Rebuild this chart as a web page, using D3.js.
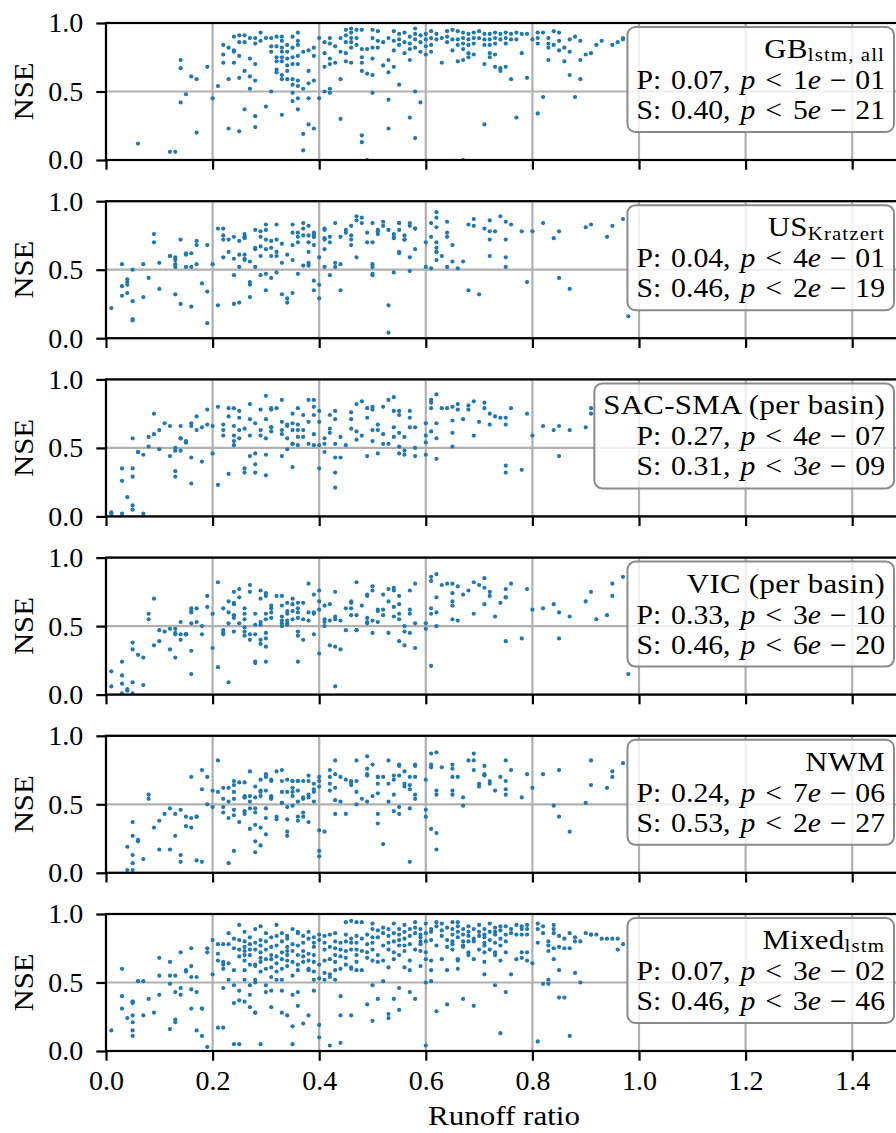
<!DOCTYPE html>
<html>
<head>
<meta charset="utf-8">
<script src="https://cdn.jsdelivr.net/npm/d3@7"></script>
<style>
  body { margin: 0; background: #fff; }
  svg { display: block; }
  text { font-family: "Liberation Serif", "Times New Roman", serif; fill: #000; }
</style>
</head>
<body>
<svg id="chart" width="896" height="1133"></svg>
<script>
// ---- axes ----
const xTickValues = [0, 0.2, 0.4, 0.6, 0.8, 1.0, 1.2, 1.4];
const yTickValues = [0, 0.5, 1.0];
const xLabel = "Runoff ratio";
const yLabel = "NSE";

// ---- legend contents, one entry per panel ----
const modelNames = ["GB", "US", "SAC-SMA (per basin)", "VIC (per basin)", "NWM", "Mixed"];
const modelSubs = ["lstm, all", "Kratzert", "", "", "", "lstm"];
const pearsonR = ["0.07", "0.04", "0.27", "0.33", "0.24", "0.07"];
const pearsonP = ["1e-01", "4e-01", "4e-07", "3e-10", "7e-06", "3e-02"];
const spearmanR = ["0.40", "0.46", "0.31", "0.46", "0.53", "0.46"];
const spearmanP = ["5e-21", "2e-19", "3e-09", "6e-20", "2e-27", "3e-46"];

// ---- per-basin points: [runoff ratio, [NSE values of basins at that ratio]] ----
const gbLstmAll = [
  [0.06,[0.12]],[0.12,[0.06]],[0.13,[0.06]],[0.14,[0.73,0.67,0.42]],[0.15,[0.48]],
  [0.16,[0.61]],[0.17,[0.59,0.20]],[0.19,[0.68]],[0.20,[0.45]],[0.21,[0.54]],
  [0.22,[0.84,0.77,0.71]],[0.23,[0.82,0.59,0.23]],[0.24,[0.90,0.80,0.79,0.71]],
  [0.25,[0.91,0.86,0.76,0.60,0.21]],[0.26,[0.91,0.86,0.65,0.37]],[0.27,[0.89,0.74,0.61,0.52]],
  [0.28,[0.89,0.85,0.70,0.58,0.32,0.24]],[0.29,[0.93,0.87]],[0.30,[0.89,0.39]],
  [0.31,[0.89,0.83,0.79,0.50]],[0.32,[0.90,0.83,0.75,0.72,0.66,0.64]],
  [0.33,[0.90,0.87,0.82,0.79,0.75,0.72,0.62,0.59,0.33]],[0.34,[0.84,0.79,0.74,0.69,0.65,0.59]],
  [0.35,[0.90,0.82,0.75,0.70,0.59,0.55,0.49,0.43]],[0.36,[0.93,0.87,0.84,0.76,0.70,0.58,0.54,0.45,0.37]],
  [0.37,[0.79,0.52,0.19,0.07]],[0.38,[0.80,0.65,0.56,0.45,0.26]],[0.39,[0.82,0.76,0.58,0.23]],
  [0.40,[0.89,0.45]],[0.41,[0.86,0.78,0.68,0.50]],[0.42,[0.89,0.85,0.74,0.70,0.52,0.49]],
  [0.43,[0.83,0.71]],[0.44,[0.89,0.79,0.59,0.30]],[0.45,[0.95,0.91,0.86,0.78,0.72]],
  [0.46,[0.96,0.93,0.89,0.86,0.82,0.71]],[0.47,[0.95,0.89,0.84]],
  [0.48,[0.95,0.81,0.75,0.71,0.65,0.18,0.13]],[0.49,[0.81,0.63,0.00]],
  [0.50,[0.95,0.89,0.82,0.74,0.62,0.49]],[0.51,[0.94,0.87,0.82]],[0.52,[0.86,0.69]],
  [0.53,[0.89,0.73,0.64,0.44,0.23]],[0.54,[0.94,0.87,0.80,0.68]],[0.55,[0.92,0.88,0.84,0.55]],
  [0.56,[0.93,0.86,0.78]],[0.57,[0.90,0.85,0.81,0.73,0.31]],[0.58,[0.96,0.92,0.88,0.82,0.50,0.16]],
  [0.59,[0.91,0.86,0.79,0.42]],[0.60,[0.92,0.88,0.83,0.77]],[0.61,[0.94,0.89,0.84,0.79]],
  [0.62,[0.92,0.88]],[0.63,[0.89,0.71]],[0.64,[0.94,0.90,0.86]],[0.65,[0.95,0.88,0.80]],
  [0.66,[0.94,0.88,0.84,0.72]],[0.67,[0.93,0.89,0.85,0.81,0.73,0.00]],
  [0.68,[0.92,0.88,0.84,0.78,0.75]],[0.69,[0.93,0.89,0.85,0.77]],[0.70,[0.94,0.89]],
  [0.71,[0.92,0.88,0.84,0.70,0.26]],[0.72,[0.92,0.88,0.84,0.78,0.75]],
  [0.73,[0.93,0.89,0.85,0.77,0.68]],[0.74,[0.92,0.88,0.67,0.65]],[0.75,[0.93,0.89,0.85,0.68]],
  [0.76,[0.92,0.88,0.59]],[0.77,[0.93,0.88,0.31]],[0.78,[0.92,0.78]],[0.79,[0.92,0.60]],
  [0.80,[0.88]],[0.81,[0.93,0.89,0.85,0.34]],[0.82,[0.93,0.46]],[0.83,[0.89,0.85,0.82,0.73]],
  [0.84,[0.94,0.84]],[0.85,[0.93,0.87,0.80]],[0.86,[0.82,0.72]],[0.87,[0.88,0.79,0.62]],
  [0.88,[0.90,0.46]],[0.89,[0.87,0.73,0.59]],[0.90,[0.77]],[0.91,[0.78]],[0.92,[0.84]],
  [0.93,[0.87]],[0.95,[0.84]],[0.96,[0.86]],[0.97,[0.89,0.88]]
];

const usKratzert = [
  [0.01,[0.22]],[0.03,[0.38,0.54,0.31]],[0.04,[0.39,0.43,0.41,0.33]],[0.05,[0.27,0.13,0.14,0.50]],
  [0.07,[0.54,0.30]],[0.08,[0.44]],[0.09,[0.76,0.70]],[0.10,[0.36,0.55]],[0.12,[0.60,0.60]],
  [0.13,[0.54,0.52,0.57,0.59,0.32]],[0.14,[0.25,0.72]],[0.15,[0.61,0.62,0.52]],
  [0.16,[0.62,0.23,0.52]],[0.17,[0.71,0.68,0.54]],[0.18,[0.40]],[0.19,[0.34,0.68,0.11]],
  [0.20,[0.54]],[0.21,[0.80,0.24]],[0.22,[0.80,0.75,0.72,0.59]],[0.23,[0.72,0.63]],
  [0.24,[0.58,0.74,0.46,0.25]],[0.25,[0.71,0.61,0.52,0.26]],[0.26,[0.76,0.74,0.57,0.61,0.58,0.74,0.73]],
  [0.27,[0.41,0.39,0.30,0.56]],[0.28,[0.52,0.66,0.79,0.65]],[0.29,[0.67,0.60,0.78,0.46,0.74]],
  [0.30,[0.83,0.79,0.72,0.65,0.35,0.47]],[0.31,[0.66,0.60,0.44,0.71]],[0.32,[0.83,0.63,0.60,0.72,0.48]],
  [0.33,[0.32,0.69,0.55]],[0.34,[0.29,0.26,0.61]],[0.35,[0.83,0.68,0.57,0.77,0.33]],
  [0.36,[0.74,0.47,0.77,0.70]],[0.37,[0.84,0.53,0.80,0.75]],[0.38,[0.53,0.55,0.63,0.82,0.75,0.70]],
  [0.39,[0.76,0.74,0.42,0.68,0.35,0.77,0.74]],[0.40,[0.59,0.39,0.29]],
  [0.41,[0.72,0.73,0.80,0.79,0.65,0.52]],[0.42,[0.70,0.46,0.74]],[0.43,[0.84,0.55,0.52]],
  [0.44,[0.35,0.74,0.54]],[0.45,[0.79,0.77]],[0.46,[0.68,0.82,0.75,0.72]],[0.47,[0.59,0.86,0.89]],
  [0.48,[0.88,0.84]],[0.49,[0.77,0.70]],[0.50,[0.84,0.70,0.54,0.47,0.46,0.52]],
  [0.51,[0.76,0.78,0.79]],[0.52,[0.85,0.82]],[0.53,[0.79,0.24,0.04]],[0.54,[0.74,0.48,0.76,0.73]],
  [0.55,[0.84,0.63,0.62,0.84,0.79]],[0.56,[0.75,0.72,0.72]],[0.57,[0.84,0.59,0.49,0.82]],
  [0.58,[0.65,0.80,0.80]],[0.60,[0.70,0.52]],[0.61,[0.84,0.51,0.74]],
  [0.62,[0.88,0.63,0.70,0.66,0.63,0.92,0.81,0.57]],[0.63,[0.60]],[0.64,[0.77,0.85,0.74,0.52]],
  [0.65,[0.68,0.56]],[0.66,[0.51]],[0.67,[0.56]],[0.68,[0.35,0.83]],[0.69,[0.87,0.82]],
  [0.70,[0.32]],[0.71,[0.80]],[0.72,[0.86,0.60,0.78,0.72]],[0.73,[0.78]],[0.74,[0.89]],
  [0.75,[0.59,0.52,0.72,0.85]],[0.76,[0.83]],[0.78,[0.78]],[0.79,[0.41]],[0.80,[0.78]],
  [0.82,[0.84]],[0.84,[0.73]],[0.85,[0.44,0.78]],[0.87,[0.36]],[0.90,[0.81]],[0.91,[0.83]],
  [0.94,[0.74]],[0.95,[0.82]],[0.97,[0.87]],[0.98,[0.16]]
];

const sacSma = [
  [0.01,[0.02,0.03]],[0.03,[0.02,0.26,0.35]],[0.04,[0.14]],[0.05,[0.35,0.29,0.05,0.08,0.57]],
  [0.06,[0.47,0.47]],[0.07,[0.45,0.02]],[0.08,[0.51,0.58]],[0.09,[0.75,0.60]],[0.10,[0.49,0.63]],
  [0.11,[0.68]],[0.12,[0.66,0.44]],[0.13,[0.48,0.50,0.33,0.29]],[0.14,[0.66,0.48,0.57,0.57]],
  [0.15,[0.55,0.54,0.54]],[0.16,[0.68,0.43,0.24,0.66]],[0.17,[0.63,0.73]],[0.18,[0.65,0.40]],
  [0.19,[0.67,0.78]],[0.20,[0.66,0.46]],[0.21,[0.80,0.23]],[0.22,[0.67,0.63,0.59]],
  [0.23,[0.79,0.73,0.31]],[0.24,[0.79,0.66,0.59,0.55,0.52]],[0.25,[0.77,0.63,0.72,0.57]],
  [0.26,[0.32,0.35,0.64]],[0.27,[0.82,0.71,0.59,0.44]],[0.28,[0.38,0.68,0.32,0.46]],
  [0.29,[0.63,0.59,0.78]],[0.30,[0.88,0.30,0.57,0.71,0.45]],[0.31,[0.79,0.65,0.62,0.78,0.65]],
  [0.32,[0.79]],[0.33,[0.44,0.63,0.60,0.85,0.69]],[0.34,[0.57,0.66,0.49,0.67]],
  [0.35,[0.53,0.53,0.75,0.63,0.68,0.36]],[0.36,[0.58,0.52,0.79,0.63,0.67]],[0.37,[0.74,0.63,0.58]],
  [0.38,[0.69,0.85,0.53]],[0.39,[0.74,0.60,0.52,0.85,0.80]],[0.40,[0.77,0.52,0.69,0.35]],
  [0.41,[0.47,0.57,0.53]],[0.42,[0.61,0.74,0.64]],[0.43,[0.43,0.53,0.21,0.71,0.32,0.77]],
  [0.44,[0.58,0.43]],[0.45,[0.52]],[0.46,[0.76,0.71,0.64]],[0.47,[0.62,0.56,0.82]],
  [0.48,[0.59,0.84]],[0.49,[0.44,0.79,0.72]],[0.50,[0.78,0.63,0.55,0.80]],[0.51,[0.46,0.67,0.63]],
  [0.52,[0.53,0.60,0.80]],[0.53,[0.85,0.53]],[0.54,[0.65,0.58,0.87,0.77]],
  [0.55,[0.74,0.46,0.61,0.77,0.51]],[0.56,[0.48,0.58,0.45]],[0.57,[0.65,0.72,0.77]],
  [0.58,[0.44,0.65,0.50]],[0.60,[0.59,0.54,0.45,0.68]],[0.61,[0.85,0.62,0.83,0.79]],
  [0.62,[0.89,0.57,0.68,0.42]],[0.63,[0.79]],[0.64,[0.79]],[0.65,[0.61,0.70,0.80,0.51]],
  [0.66,[0.82,0.78]],[0.67,[0.71]],[0.68,[0.78,0.81]],[0.69,[0.84,0.59]],[0.70,[0.69]],
  [0.71,[0.79,0.83]],[0.72,[0.75,0.67]],[0.73,[0.73]],[0.74,[0.72]],[0.75,[0.37,0.32,0.72,0.67]],
  [0.76,[0.79]],[0.78,[0.34]],[0.79,[0.75]],[0.80,[0.59]],[0.82,[0.66]],[0.84,[0.63]],
  [0.85,[0.66,0.44]],[0.87,[0.63]],[0.90,[0.65]],[0.91,[0.75,0.79]]
];

const vic = [
  [0.01,[0.06,0.17]],[0.03,[0.01,0.24,0.14,0.08]],[0.04,[0.03,0.04,0.03]],[0.05,[0.01,0.09,0.38,0.33]],
  [0.06,[0.29]],[0.07,[0.27,0.07]],[0.08,[0.59,0.55]],[0.09,[0.70,0.36]],[0.10,[0.39,0.47]],
  [0.11,[0.46]],[0.12,[0.48,0.33]],[0.13,[0.48,0.45,0.27,0.44]],[0.14,[0.40,0.44,0.53]],
  [0.15,[0.44,0.44,0.44]],[0.16,[0.63,0.52,0.61,0.60,0.32,0.15]],[0.17,[0.53,0.63]],
  [0.18,[0.50,0.44]],[0.19,[0.64,0.72]],[0.20,[0.59,0.34]],[0.21,[0.82,0.20]],
  [0.22,[0.47,0.45,0.63,0.44]],[0.23,[0.68,0.60,0.52,0.09]],[0.24,[0.46,0.67,0.58,0.66,0.56,0.75]],
  [0.25,[0.71,0.52,0.77]],[0.26,[0.63,0.49,0.46,0.43,0.59,0.55]],[0.27,[0.80,0.75,0.40,0.44]],
  [0.28,[0.51,0.23,0.44,0.24,0.59]],[0.29,[0.70,0.37,0.51,0.53,0.40,0.76]],
  [0.30,[0.35,0.24,0.59,0.55,0.72,0.45,0.41,0.74]],[0.31,[0.60,0.63,0.56,0.65]],[0.32,[0.72]],
  [0.33,[0.54,0.57,0.52,0.72,0.65,0.50]],[0.34,[0.54,0.52,0.59,0.61,0.51,0.67]],
  [0.35,[0.70,0.61,0.55,0.66]],[0.36,[0.56,0.24,0.67,0.46,0.43,0.63,0.60]],[0.37,[0.67,0.55,0.40]],
  [0.38,[0.54,0.81,0.60]],[0.39,[0.59,0.44,0.73,0.60]],[0.40,[0.76,0.68,0.62,0.30]],
  [0.41,[0.53,0.55,0.50,0.65]],[0.42,[0.54,0.66,0.36]],[0.43,[0.06,0.35,0.57,0.55,0.75]],
  [0.44,[0.54,0.33]],[0.45,[0.47,0.63]],[0.46,[0.63,0.67,0.68,0.58]],[0.47,[0.47,0.58,0.47,0.82]],
  [0.48,[0.65]],[0.49,[0.56,0.53,0.72,0.52,0.73]],[0.50,[0.76,0.54,0.79,0.45]],[0.51,[0.53,0.62,0.61]],
  [0.52,[0.62,0.58,0.73]],[0.53,[0.77,0.68,0.45]],[0.54,[0.64,0.76,0.57,0.78]],
  [0.55,[0.55,0.39,0.66,0.72,0.59]],[0.56,[0.50,0.36,0.46]],[0.57,[0.62,0.76,0.45,0.59]],
  [0.58,[0.34,0.52,0.81]],[0.60,[0.48,0.52]],[0.61,[0.21,0.63,0.83,0.86,0.59]],
  [0.62,[0.88,0.71,0.60,0.50]],[0.63,[0.80]],[0.64,[0.81]],[0.65,[0.74,0.68,0.65,0.81,0.55]],
  [0.66,[0.54,0.79]],[0.67,[0.73]],[0.68,[0.76]],[0.69,[0.82,0.59]],[0.70,[0.80]],
  [0.71,[0.78,0.85,0.66]],[0.72,[0.75,0.72]],[0.73,[0.57]],[0.74,[0.67]],[0.75,[0.39,0.71,0.77,0.71]],
  [0.76,[0.81]],[0.78,[0.41]],[0.79,[0.77]],[0.80,[0.62]],[0.82,[0.63]],[0.84,[0.66]],
  [0.85,[0.60,0.41]],[0.87,[0.57]],[0.90,[0.68]],[0.91,[0.75]],[0.92,[0.55]],[0.94,[0.58]],
  [0.95,[0.72,0.81]],[0.97,[0.86]],[0.98,[0.15]]
];

const nwm = [
  [0.04,[0.02,0.19]],[0.05,[0.02,0.37,0.27,0.07,0.13]],[0.06,[0.23,0.24]],[0.07,[0.10]],
  [0.08,[0.54,0.57]],[0.09,[0.33]],[0.10,[0.17,0.38]],[0.11,[0.43]],[0.12,[0.47,0.17]],
  [0.13,[0.43,0.27]],[0.14,[0.08,0.46,0.13]],[0.15,[0.34,0.41]],[0.16,[0.33,0.40,0.70]],
  [0.17,[0.41,0.09,0.41]],[0.18,[0.61,0.75,0.08]],[0.19,[0.50,0.70]],[0.20,[0.48,0.60]],
  [0.21,[0.82,0.59]],[0.22,[0.54,0.48,0.44,0.62]],[0.23,[0.62,0.52,0.40,0.07]],
  [0.24,[0.54,0.67,0.64,0.59,0.46,0.16,0.42]],[0.25,[0.66,0.37]],[0.26,[0.55,0.66,0.56,0.43,0.45,0.55]],
  [0.27,[0.47,0.52,0.56,0.32,0.74]],[0.28,[0.47,0.23,0.44,0.35,0.55,0.15,0.63]],
  [0.29,[0.60,0.59,0.56,0.33,0.20,0.68]],[0.30,[0.40,0.70,0.47,0.28,0.72,0.60]],
  [0.31,[0.56,0.55,0.68,0.67,0.54]],[0.32,[0.74,0.41,0.39]],[0.33,[0.59,0.75,0.67,0.51,0.51]],
  [0.34,[0.39,0.30,0.27,0.48,0.59,0.68]],[0.35,[0.62,0.56,0.67,0.49,0.59,0.67]],
  [0.36,[0.38,0.67,0.52,0.60,0.67,0.41]],[0.37,[0.55,0.67,0.44,0.54,0.41]],
  [0.38,[0.67,0.71,0.55,0.37,0.57]],[0.39,[0.59,0.61,0.52,0.65]],[0.40,[0.67,0.63,0.70,0.31,0.16,0.12]],
  [0.41,[0.30]],[0.42,[0.75,0.65,0.60,0.70]],[0.43,[0.43,0.62,0.82,0.72,0.53]],[0.44,[0.70,0.52]],
  [0.45,[0.68,0.43]],[0.46,[0.67,0.66,0.64]],[0.47,[0.67,0.59,0.50,0.82]],[0.48,[0.54]],
  [0.49,[0.76,0.72,0.71,0.52,0.85]],[0.50,[0.79,0.56]],[0.51,[0.43,0.65,0.70,0.36,0.58,0.70]],
  [0.52,[0.70,0.21]],[0.53,[0.52,0.82,0.65]],[0.54,[0.71,0.45,0.57,0.68]],[0.55,[0.79,0.48,0.71,0.43,0.78]],
  [0.56,[0.65,0.63,0.74]],[0.57,[0.47,0.64,0.61,0.70,0.08]],[0.58,[0.57,0.54,0.79,0.70,0.78]],
  [0.60,[0.68,0.46,0.41]],[0.61,[0.32,0.79,0.87,0.77]],[0.62,[0.88,0.60,0.57,0.29,0.17]],
  [0.63,[0.77]],[0.65,[0.70,0.60,0.57,0.79,0.76]],[0.66,[0.70]],[0.67,[0.49,0.55]],[0.68,[0.82]],
  [0.69,[0.75,0.87,0.82]],[0.70,[0.63,0.65]],[0.71,[0.72,0.78,0.71]],[0.72,[0.67,0.65]],[0.73,[0.60]],
  [0.74,[0.70]],[0.75,[0.57,0.61,0.82,0.67]],[0.76,[0.75]],[0.78,[0.55]],[0.79,[0.72]],[0.80,[0.62]],
  [0.82,[0.72]],[0.84,[0.49]],[0.85,[0.41,0.75]],[0.87,[0.30]],[0.90,[0.51]],[0.91,[0.82,0.64]],
  [0.94,[0.62]],[0.95,[0.70,0.74]],[0.97,[0.80]]
];

const mixedLstm = [
  [0.01,[0.15]],[0.03,[0.31,0.60,0.40]],[0.04,[0.24]],[0.05,[0.36,0.35,0.36,0.26,0.21,0.15,0.11]],
  [0.06,[0.51]],[0.07,[0.51,0.26]],[0.08,[0.38]],[0.09,[0.28]],[0.10,[0.55,0.41,0.68]],
  [0.12,[0.65,0.16,0.49,0.55]],[0.13,[0.55,0.43,0.23,0.21]],[0.14,[0.41,0.46,0.72]],[0.15,[0.59,0.58]],
  [0.16,[0.54,0.75,0.62,0.45,0.31]],[0.17,[0.54,0.15,0.43]],[0.18,[0.11,0.31,0.31]],
  [0.19,[0.03,0.72,0.75]],[0.20,[0.56,0.81]],[0.21,[0.78,0.71,0.66,0.17]],
  [0.22,[0.63,0.78,0.46,0.17,0.60,0.65]],[0.23,[0.86,0.78,0.52,0.64]],[0.24,[0.75,0.82,0.59,0.35,0.05,0.48]],
  [0.25,[0.74,0.92,0.44,0.05,0.37,0.81,0.69]],[0.26,[0.52,0.73,0.80,0.66,0.87,0.36,0.59,0.76,0.70]],
  [0.27,[0.74,0.70,0.48,0.32,0.83,0.41,0.78,0.63]],[0.28,[0.28,0.63,0.79,0.89,0.52,0.74,0.28,0.50,0.62]],
  [0.29,[0.81,0.91,0.68,0.77,0.05,0.65,0.72,0.58]],[0.30,[0.48,0.80,0.60,0.43,0.74,0.86,0.67]],
  [0.31,[0.70,0.44,0.32,0.67,0.83,0.54,0.76,0.61]],[0.32,[0.64,0.77,0.92,0.52,0.84,0.58,0.69]],
  [0.33,[0.72,0.44,0.80,0.28,0.67,0.52,0.86,0.60]],[0.34,[0.84,0.70,0.26,0.62,0.82,0.76,0.66,0.73]],
  [0.35,[0.41,0.65,0.55,0.89,0.05,0.73,0.18,0.78]],[0.36,[0.70,0.43,0.86,0.33,0.59,0.77,0.87,0.63]],
  [0.37,[0.65,0.79,0.20,0.73,0.84,0.69]],[0.38,[0.82,0.60,0.87,0.26,0.59,0.71,0.66]],
  [0.39,[0.79,0.52,0.65,0.70,0.44,0.76,0.83,0.58]],[0.40,[0.85,0.19,0.53,0.63,0.10,0.81]],
  [0.41,[0.57,0.84,0.52,0.74,0.66,0.79]],[0.42,[0.67,0.54,0.85,0.56,0.04,0.76]],
  [0.43,[0.70,0.59,0.80,0.86,0.52,0.65,0.75]],[0.44,[0.40,0.74,0.79,0.26,0.06,0.60,0.69]],
  [0.45,[0.85,0.73,0.68,0.80,0.94,0.63]],[0.46,[0.74,0.60,0.82,0.79,0.95,0.26,0.61]],
  [0.47,[0.94,0.65,0.74,0.84,0.59,0.79,0.70]],[0.48,[0.94,0.59,0.82,0.73]],[0.49,[0.78,0.72,0.68,0.34,0.85]],
  [0.50,[0.74,0.66,0.89,0.93,0.48,0.22,0.79,0.83]],[0.51,[0.70,0.38,0.83,0.65,0.88]],
  [0.52,[0.77,0.66,0.90,0.51,0.86]],[0.53,[0.61,0.84,0.79,0.27,0.24,0.74,0.89]],
  [0.54,[0.67,0.80,0.38,0.93,0.72,0.86]],[0.55,[0.85,0.77,0.46,0.30,0.89,0.70,0.81]],
  [0.56,[0.92,0.73,0.61,0.87,0.82,0.77]],[0.57,[0.66,0.89,0.59,0.43,0.78,0.84]],
  [0.58,[0.38,0.86,0.94,0.90,0.74]],[0.59,[0.83,0.80,0.78,0.73,0.62,0.85,0.89]],
  [0.60,[0.50,0.72,0.04,0.93,0.67,0.80,0.86]],[0.61,[0.87,0.81,0.66,0.89,0.51,0.59]],
  [0.62,[0.94,0.77,0.91,0.29]],[0.63,[0.67,0.88,0.84,0.93]],[0.64,[0.59,0.76,0.90,0.81,0.34]],
  [0.65,[0.94,0.78,0.85,0.74,0.89,0.80]],[0.66,[0.60,0.67,0.87,0.66,0.91,0.94,0.83]],
  [0.67,[0.77,0.85,0.38,0.80,0.76,0.89]],[0.68,[0.72,0.84,0.91,0.70,0.80,0.87]],
  [0.69,[0.67,0.82,0.89,0.80,0.33]],[0.70,[0.74,0.84,0.92,0.87]],
  [0.71,[0.72,0.79,0.65,0.85,0.56,0.89,0.83,0.77]],[0.72,[0.87,0.93,0.81,0.74]],
  [0.73,[0.85,0.79,0.90,0.70,0.48,0.87,0.72]],[0.74,[0.91,0.82,0.88,0.66,0.13,0.77]],
  [0.75,[0.43,0.85,0.91,0.72,0.80]],[0.76,[0.89,0.86,0.56]],[0.77,[0.92,0.85,0.67]],
  [0.78,[0.72,0.89,0.91,0.68,0.85]],[0.79,[0.92,0.85,0.72,0.89,0.66]],[0.80,[0.64]],
  [0.81,[0.93,0.79,0.07,0.89]],[0.82,[0.91,0.49,0.86]],[0.83,[0.52,0.49,0.80,0.77,0.73]],
  [0.84,[0.92,0.86,0.67,0.75,0.89]],[0.85,[0.39,0.59,0.84,0.76]],[0.86,[0.82,0.39,0.75]],
  [0.87,[0.11,0.86,0.75]],[0.88,[0.83,0.57,0.80]],[0.89,[0.80,0.50]],[0.90,[0.86]],
  [0.91,[0.85,0.85]],[0.92,[0.85]],[0.93,[0.82]],[0.94,[0.82]],[0.95,[0.82]],[0.96,[0.74,0.82]],
  [0.97,[0.78]]
];

const panelSeries = [gbLstmAll, usKratzert, sacSma, vic, nwm, mixedLstm];

// ---- layout ----
const plotLeft = 106, plotRight = 905.5;   // right edge runs just past the canvas
const firstTop = 23, panelHeight = 137, panelStep = 178.2;
const fontSize = 28, legendFont = 27, titleFont = 28, subFont = 19;
const legendStretch = 1.1;                 // widens the serif glyphs of the legend text
const gridColor = "#b0b0b0";
const pointColor = "#1f77b4";
const lineW = 2.2;

const svg = d3.select("#chart");
const defs = svg.append("defs");
const x = d3.scaleLinear().domain([0, 1.5]).range([plotLeft, plotRight]);

// "P: 0.07, p < 1e − 01" with math-style spacing around the relation and the minus
function addMathLine(textSel, name, r, pval) {
  const [mant, expo] = pval.split("e-");
  textSel.append("tspan").text(name + ":");
  textSel.append("tspan").attr("dx", 9).text(r + ",");
  textSel.append("tspan").attr("dx", 9).attr("font-style", "italic").text("p");
  textSel.append("tspan").attr("dx", 9).text("<");
  textSel.append("tspan").attr("dx", 10).text(mant);
  textSel.append("tspan").attr("font-style", "italic").text("e");
  textSel.append("tspan").attr("dx", 8).text("\u2212");
  textSel.append("tspan").attr("dx", 8).text(expo);
}

panelSeries.forEach((cols, i) => {
  const top = firstTop + i * panelStep;
  const bottom = top + panelHeight;
  const y = d3.scaleLinear().domain([0, 1]).range([bottom, top]);
  const isLast = i === panelSeries.length - 1;
  const points = cols.flatMap(([ratio, values]) => values.map(v => [ratio, v]));

  const g = svg.append("g");

  defs.append("clipPath").attr("id", "clip" + i)
    .append("rect").attr("x", plotLeft).attr("y", top)
    .attr("width", plotRight - plotLeft).attr("height", panelHeight);

  // grid
  g.append("g").selectAll("line").data(xTickValues).join("line")
    .attr("x1", d => x(d)).attr("x2", d => x(d))
    .attr("y1", top).attr("y2", bottom)
    .attr("stroke", gridColor).attr("stroke-width", lineW);
  g.append("g").selectAll("line").data(yTickValues).join("line")
    .attr("x1", plotLeft).attr("x2", plotRight)
    .attr("y1", d => y(d)).attr("y2", d => y(d))
    .attr("stroke", gridColor).attr("stroke-width", lineW);

  // scatter
  g.append("g").attr("clip-path", `url(#clip${i})`)
    .selectAll("circle").data(points).join("circle")
    .attr("cx", d => x(d[0])).attr("cy", d => y(d[1]))
    .attr("r", 2.1).attr("fill", pointColor);

  // axes
  const xAxis = d3.axisBottom(x).tickValues(xTickValues)
    .tickSize(9.7).tickPadding(9)
    .tickFormat(isLast ? d3.format(".1f") : () => "");
  const xa = g.append("g").attr("transform", `translate(0,${bottom})`).call(xAxis);
  const yAxis = d3.axisLeft(y).tickValues(yTickValues)
    .tickSize(9.7).tickPadding(13).tickFormat(d3.format(".1f"));
  const ya = g.append("g").attr("transform", `translate(${plotLeft},0)`).call(yAxis);
  [xa, ya].forEach(a => {
    a.select(".domain").remove();
    a.selectAll(".tick line").attr("stroke", "#000").attr("stroke-width", lineW);
    a.selectAll(".tick text").attr("font-size", fontSize)
      .attr("font-family", "Liberation Serif, serif").attr("fill", "#000");
  });

  // spines
  g.append("rect").attr("x", plotLeft).attr("y", top)
    .attr("width", plotRight - plotLeft).attr("height", panelHeight)
    .attr("fill", "none").attr("stroke", "#000").attr("stroke-width", lineW);

  // y label
  g.append("text")
    .attr("transform", `translate(33,${(top + bottom) / 2}) rotate(-90)`)
    .attr("text-anchor", "middle").attr("font-size", fontSize)
    .attr("textLength", 58).attr("lengthAdjust", "spacingAndGlyphs")
    .text(yLabel);

  // legend: box, then right-aligned lines stretched from the right edge
  const lg = g.append("g");
  const textRight = 885;
  const lTop = top + 4;
  const box = lg.append("rect");
  const lt = lg.append("g")
    .attr("transform", `translate(${textRight},0) scale(${legendStretch},1)`);
  const t1 = lt.append("text").attr("x", 0).attr("y", lTop + 31)
    .attr("text-anchor", "end").attr("font-size", titleFont)
    .attr("letter-spacing", 0.3);
  t1.append("tspan").text(modelNames[i]);
  if (modelSubs[i]) {
    t1.append("tspan").attr("font-size", subFont).attr("dy", 3.5)
      .attr("letter-spacing", 1).text(modelSubs[i]);
  }
  const t2 = lt.append("text").attr("x", 0).attr("y", lTop + 62)
    .attr("text-anchor", "end").attr("font-size", legendFont);
  addMathLine(t2, "P", pearsonR[i], pearsonP[i]);
  const t3 = lt.append("text").attr("x", 0).attr("y", lTop + 92)
    .attr("text-anchor", "end").attr("font-size", legendFont);
  addMathLine(t3, "S", spearmanR[i], spearmanP[i]);

  const maxW = d3.max([t1, t2, t3], t => t.node().getBBox().width) * legendStretch;
  const boxLeft = textRight - maxW - 9;
  box.attr("x", boxLeft).attr("y", lTop)
    .attr("width", 894 - boxLeft).attr("height", 105)
    .attr("rx", 8).attr("ry", 8)
    .attr("fill", "#fff").attr("fill-opacity", 0.8)
    .attr("stroke", "#8a8a8a").attr("stroke-width", 2);
});

// x label
svg.append("text")
  .attr("x", 504).attr("y", 1125)
  .attr("text-anchor", "middle").attr("font-size", fontSize)
  .attr("textLength", 152).attr("lengthAdjust", "spacingAndGlyphs")
  .text(xLabel);
</script>
</body>
</html>
